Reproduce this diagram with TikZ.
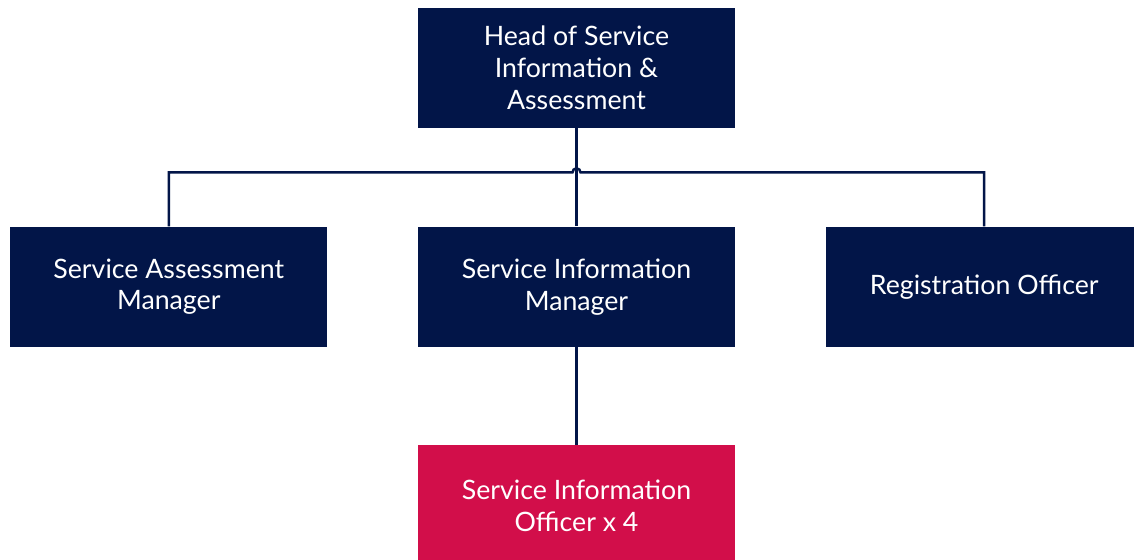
\documentclass[tikz,border=0pt]{standalone}
\usepackage{fontspec}
\setmainfont{Lato}
\usetikzlibrary{positioning}
\definecolor{navy}{HTML}{021548}
\definecolor{crimson}{HTML}{D20E4A}

\begin{document}
\begin{tikzpicture}[
    role/.style={rectangle,fill=navy,text=white,inner sep=0pt,minimum width=6.34cm,minimum height=2.4cm,align=center,font=\fontsize{15.2}{18.2}\selectfont},
    officer/.style={role,fill=crimson},
    link/.style={draw=navy,line width=1.4pt},
    node distance=1.96cm and 1.8cm
    ]
    \useasboundingbox (0,0) rectangle (22.68,11.2);
    \clip (0,0) rectangle (22.68,11.2);

    \node(head) [role] at (11.53,9.84) {Head of Service\\Information \&\\Assessment};

    \node(sim) [below=of head,role] {Service Information\\Manager};
    \node(sam) [left=of sim,role] {Service Assessment\\Manager};
    \node(ro) [right=of sim,role] {Registration Officer};

    \node(sio) [below=of sim,officer] {Service Information\\Officer x 4};

    \coordinate[below=0.88cm of head.south] (bar);

    \draw[link] (sam.north) |- ([xshift=-0.08cm]bar) arc[start angle=180,end angle=0,radius=0.08cm] -| (ro.north);
    \draw[link] (head) -- (sim);
    \draw[link] (sim) -- (sio);

  \end{tikzpicture}
\end{document}
